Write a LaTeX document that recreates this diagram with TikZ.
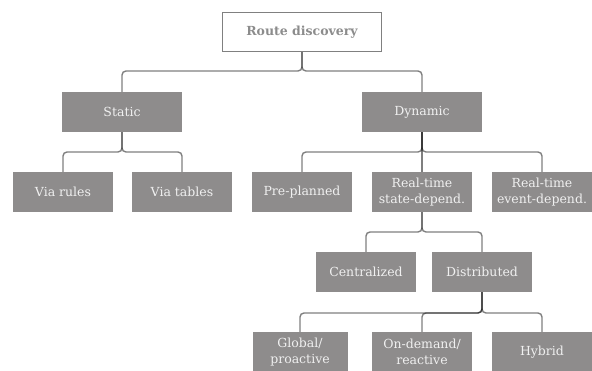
\documentclass[tikz,border=0pt]{standalone}
\usepackage{fontspec}
\setmainfont{DejaVu Serif}
\definecolor{boxfill}{HTML}{8E8C8C}
\definecolor{rdline}{HTML}{808080}
\definecolor{rdtext}{HTML}{8C8C8C}
\begin{document}
\begin{tikzpicture}[x=1pt,y=-1pt,
  catbox/.style={fill=boxfill,text=white!94!black,minimum height=40pt,inner sep=1pt,align=center,
    font=\fontsize{12.5}{16}\selectfont},
  conn/.style={draw=black,draw opacity=0.5,line width=1.4pt,rounded corners=4pt}]
\useasboundingbox (0,0) rectangle (592,370);
\node[draw=rdline,line width=1.4pt,fill=white,minimum width=159pt,minimum height=39pt,text=rdtext,
  font=\fontsize{12.5}{15}\selectfont\bfseries] (rd) at (302,32) {Route discovery};
\node[catbox,minimum width=120pt] (st) at (122,112) {Static};
\node[catbox,minimum width=120pt] (dy) at (422,112) {Dynamic};
\node[catbox,minimum width=100pt] (vr) at (63,192) {Via rules};
\node[catbox,minimum width=100pt] (vt) at (182,192) {Via tables};
\node[catbox,minimum width=100pt] (pp) at (302,192) {Pre-planned};
\node[catbox,minimum width=100pt] (rs) at (422,192) {Real-time\\state-depend.};
\node[catbox,minimum width=100pt] (re) at (542,192) {Real-time\\event-depend.};
\node[catbox,minimum width=100pt] (ce) at (366,272) {Centralized};
\node[catbox,minimum width=100pt] (di) at (482,272) {Distributed};
\node[catbox,minimum width=95pt] (gl) at (300,352) {Global/\\proactive};
\node[catbox,minimum width=100pt] (od) at (422,352) {On-demand/\\reactive};
\node[catbox,minimum width=100pt] (hy) at (542,352) {Hybrid};
\coordinate (b1) at (0,71);
\coordinate (b2) at (0,152);
\coordinate (b3) at (0,232);
\coordinate (b4) at (0,313);
\foreach \p/\c/\b in {rd/st/b1,rd/dy/b1,st/vr/b2,st/vt/b2,dy/pp/b2,dy/re/b2,rs/ce/b3,rs/di/b3,di/gl/b4,di/od/b4,di/hy/b4}
  \draw[conn] (\p.south) -- (\p.south |- \b) -- (\c.north |- \b) -- (\c.north);
\draw[conn] (dy.south) -- (rs.north);
\end{tikzpicture}
\end{document}
